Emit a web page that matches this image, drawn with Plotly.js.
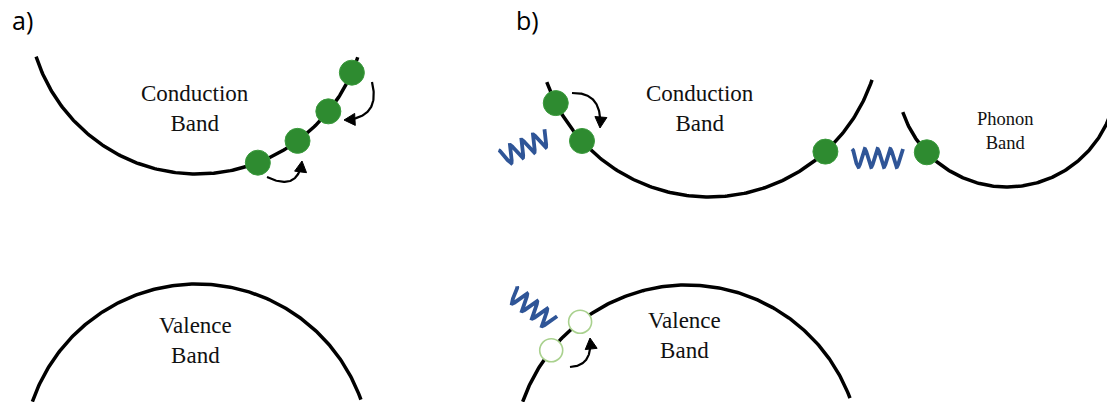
<!DOCTYPE html>
<html>
<head>
<meta charset="utf-8">
<script src="https://cdn.plot.ly/plotly-3.0.1.min.js"></script>
<style>
  html, body { margin: 0; padding: 0; background: #ffffff; }
  #chart { width: 1107px; height: 402px; }
</style>
</head>
<body>
<div id="chart"></div>
<script>
// Band arcs: circle centre, radius and the angular span (degrees, screen y points down)
const bandLabels = ['Conduction<br>Band', 'Valence<br>Band', 'Conduction<br>Band', 'Valence<br>Band', 'Phonon<br>Band'];
const bandCx = [197, 197, 709, 687, 1007];
const bandCy = [5, 458, 25, 459, 77];
const bandR = [169, 174, 172, 174, 110];
const bandStartDeg = [162.2, 198.9, 160.6, 199.2, 161.4];
const bandEndDeg = [18.0, 340.4, 18.6, 339.5, 15.0];
const labelX = [195, 195, 700, 684, 1005];
const labelY = [108, 340, 108, 335, 131];
const labelSize = [23, 23, 23, 23, 18.5];

// Electrons (filled) and holes (open): which band they sit on and at what angle
const electronBand = [0, 0, 0, 0, 2, 2, 2, 4];
const electronDeg = [68.9, 53.5, 39.0, 23.6, 153.0, 137.6, 47.4, 136.8];
const holeBand = [3, 3];
const holeDeg = [232.1, 218.7];

// Curved hop arrows: start, control, tip
const arrowStart = [[267, 177], [372, 82], [572, 93], [570, 367]];
const arrowCtrl = [[298, 192], [381, 118], [603, 92], [593, 366]];
const arrowTip = [[302, 161], [344, 120], [600, 128], [590, 338]];

// Photon / phonon squiggles: start, end, number of waves, amplitude
const waveStart = [[502, 158], [852, 158], [512, 293]];
const waveEnd = [[548, 137], [903, 158], [552, 323]];
const waveCycles = [4, 4, 4];
const waveAmp = [8.5, 9, 8.5];

const panelTags = ['a)', 'b)'];
const panelTagX = [22, 527];

const GREEN = '#2e8b30';
const HOLE_EDGE = '#a9d18e';
const BLUE = '#2f5597';

const rad = d => d * Math.PI / 180;
const onBand = (b, deg) => [bandCx[b] + bandR[b] * Math.cos(rad(deg)), bandCy[b] + bandR[b] * Math.sin(rad(deg))];

const traces = [];

// Bands
for (let b = 0; b < bandCx.length; b++) {
  const a0 = bandStartDeg[b], a1 = bandEndDeg[b];
  const xs = [], ys = [];
  const n = 200;
  for (let i = 0; i <= n; i++) {
    const p = onBand(b, a0 + (a1 - a0) * i / n);
    xs.push(p[0]); ys.push(p[1]);
  }
  traces.push({ x: xs, y: ys, mode: 'lines', line: { color: '#000000', width: 3.5 }, hoverinfo: 'skip' });
}

// Squiggles
for (let w = 0; w < waveStart.length; w++) {
  const [x0, y0] = waveStart[w], [x1, y1] = waveEnd[w];
  const dx = x1 - x0, dy = y1 - y0, len = Math.hypot(dx, dy);
  const nx = -dy / len, ny = dx / len;
  const xs = [], ys = [];
  const n = 160;
  for (let i = 0; i <= n; i++) {
    const t = i / n;
    const off = waveAmp[w] * Math.sin(2 * Math.PI * waveCycles[w] * t - Math.PI / 2);
    xs.push(x0 + dx * t + nx * off);
    ys.push(y0 + dy * t + ny * off);
  }
  traces.push({ x: xs, y: ys, mode: 'lines', line: { color: BLUE, width: 3.8 }, hoverinfo: 'skip' });
}

// Hop arrows: quadratic curve plus a filled head
for (let k = 0; k < arrowStart.length; k++) {
  const [sx, sy] = arrowStart[k], [cx, cy] = arrowCtrl[k], [tx, ty] = arrowTip[k];
  const tdx = tx - cx, tdy = ty - cy, tl = Math.hypot(tdx, tdy);
  const ux = tdx / tl, uy = tdy / tl;
  const headL = 11, headW = 6;
  const bx = tx - ux * headL, by = ty - uy * headL;
  const xs = [], ys = [];
  const n = 60;
  for (let i = 0; i <= n; i++) {
    const t = i / n;
    const px = (1 - t) * (1 - t) * sx + 2 * (1 - t) * t * cx + t * t * tx;
    const py = (1 - t) * (1 - t) * sy + 2 * (1 - t) * t * cy + t * t * ty;
    // stop the shaft where the head begins
    if (Math.hypot(px - tx, py - ty) < headL * 0.8) break;
    xs.push(px); ys.push(py);
  }
  traces.push({ x: xs, y: ys, mode: 'lines', line: { color: '#000000', width: 2.2 }, hoverinfo: 'skip' });
  traces.push({
    x: [tx, bx - uy * headW, bx + uy * headW, tx],
    y: [ty, by + ux * headW, by - ux * headW, ty],
    mode: 'lines', fill: 'toself', fillcolor: '#000000',
    line: { color: '#000000', width: 1 }, hoverinfo: 'skip'
  });
}

// Electrons
const ePts = electronBand.map((b, i) => onBand(b, electronDeg[i]));
traces.push({
  x: ePts.map(p => p[0]), y: ePts.map(p => p[1]), mode: 'markers',
  marker: { size: 25, color: GREEN, line: { color: '#3a9a3c', width: 1 } }, hoverinfo: 'skip'
});

// Holes
const hPts = holeBand.map((b, i) => onBand(b, holeDeg[i]));
traces.push({
  x: hPts.map(p => p[0]), y: hPts.map(p => p[1]), mode: 'markers',
  marker: { size: 23, color: '#ffffff', line: { color: HOLE_EDGE, width: 1.6 } }, hoverinfo: 'skip'
});

const annotations = [];
bandLabels.forEach((t, i) => annotations.push({
  text: t, x: labelX[i], y: labelY[i], xref: 'x', yref: 'y', showarrow: false,
  xanchor: 'center', yanchor: 'middle', align: 'center',
  font: { family: 'Liberation Serif, Times New Roman, serif', size: labelSize[i], color: '#111111' }
}));
panelTags.forEach((t, i) => annotations.push({
  text: t, x: panelTagX[i], y: 20, xref: 'x', yref: 'y', showarrow: false,
  xanchor: 'center', yanchor: 'middle',
  font: { family: 'Open Sans, Liberation Sans, sans-serif', size: 25, color: '#000000' }
}));

const layout = {
  width: 1107, height: 402,
  margin: { l: 0, r: 0, t: 0, b: 0 },
  paper_bgcolor: '#ffffff', plot_bgcolor: '#ffffff',
  showlegend: false,
  xaxis: { range: [0, 1107], visible: false, fixedrange: true },
  yaxis: { range: [402, 0], visible: false, fixedrange: true },
  annotations: annotations
};

Plotly.newPlot('chart', traces, layout, { staticPlot: true, displayModeBar: false });
</script>
</body>
</html>
